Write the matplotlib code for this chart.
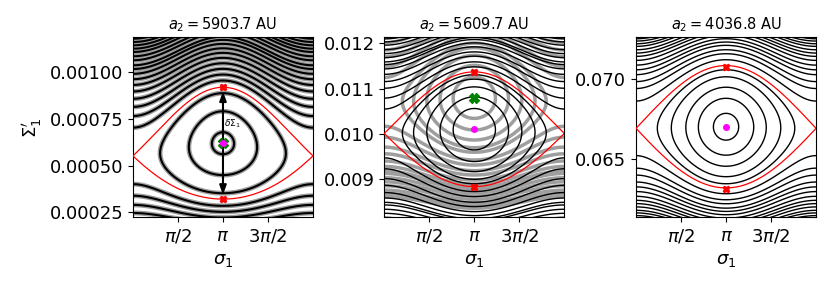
import numpy as np
import matplotlib
matplotlib.use("Agg")
import matplotlib.pyplot as plt

# ---------------- data ----------------
titles = ["$a_2 = 5903.7$ AU", "$a_2 = 5609.7$ AU", "$a_2 = 4036.8$ AU"]
# stable equilibrium (magenta) at sigma = pi
centers = [0.000620, 0.010104, 0.06703]
# saddle point of the separatrix at sigma = 0 / 2pi
saddles = [0.000552, 0.010011, 0.06693]
# separatrix extremes at sigma = pi (red markers)
sep_top = [0.000920, 0.01136, 0.07077]
sep_bot = [0.000321, 0.00883, 0.06315]
# green cross (centre of the grey portrait)
greens = [0.000622, 0.01080, None]
# closed curves: distance above the centre where they cross sigma = pi
rings = [
    [0.000059, 0.000171, 0.000268],
    [0.000457, 0.000713, 0.000934, 0.001104, 0.001203],
    [0.000834, 0.00177, 0.00246, 0.00311, 0.00355],
]
# circulating curves: distance above the centre where they cross sigma = pi
outer_pi = [
    [0.0003356, 0.0003678, 0.0003983, 0.0004282, 0.0004571, 0.0004839,
     0.0005085, 0.0005321, 0.0005535],
    [0.001375, 0.001486, 0.001611, 0.001706, 0.001817, 0.001905, 0.001978],
    [0.004172, 0.004546, 0.004795, 0.005069, 0.005274, 0.00548],
]
# circulating curves leaving the top: distance above the saddle at sigma = 0
outer_edge = [
    [0.0004855, 0.0005123, 0.0005337, 0.0005567, 0.0005744, 0.0005926,
     0.0006102, 0.0006279],
    [0.001578, 0.001673, 0.001762, 0.00185, 0.001947, 0.00202, 0.002086],
    [0.004234, 0.004483, 0.004689, 0.004894, 0.005106, 0.005268, 0.005436,
     0.005579],
]
ylims = [(0.000223, 0.0011874), (0.008161, 0.012132), (0.06139, 0.0726)]
yticks = [[0.00025, 0.0005, 0.00075, 0.001], [0.009, 0.010, 0.011, 0.012],
          [0.065, 0.070]]
ytick_labels = [["0.00025", "0.00050", "0.00075", "0.00100"],
                ["0.009", "0.010", "0.011", "0.012"],
                ["0.065", "0.070"]]
xticks = [np.pi / 2, np.pi, 3 * np.pi / 2]
xtick_labels = [r"$\pi/2$", r"$\pi$", r"$3\pi/2$"]

# ---------------- figure ----------------
fig = plt.figure(figsize=(8.3, 2.9), dpi=100)
lefts = [0.1602, 0.4630, 0.7663]
bottom, w, h = 0.2507, 0.2169, 0.6207


def model(i):
    half = (sep_top[i] - sep_bot[i]) / 2
    k = half ** 2 / 4
    d = (centers[i] - saddles[i]) / (2 * k)
    s0 = (centers[i] + saddles[i]) / 2
    return k, d, s0


def ham(S, sig, k, d, s0):
    u = S - s0
    return u ** 2 / 2 + k * np.cos(sig) * (1 + d * u)


for i in range(3):
    ax = fig.add_axes([lefts[i], bottom, w, h])
    k, d, s0 = model(i)
    sig = np.linspace(0, 2 * np.pi, 600)
    span = ylims[i][1] - ylims[i][0]
    S = np.linspace(ylims[i][0] - 0.1 * span, ylims[i][1] + 0.1 * span, 800)
    SG, SS = np.meshgrid(sig, S)
    H = ham(SS, SG, k, d, s0)
    uc = k * d
    Hc = ham(s0 + uc, np.pi, k, d, s0)
    Hs = ham(s0 - uc, 0.0, k, d, s0)
    lev = ([Hc + r ** 2 / 2 for r in rings[i]]
           + [Hc + r ** 2 / 2 for r in outer_pi[i]]
           + [Hs + q ** 2 / 2 for q in outer_edge[i]])
    lev = np.unique(np.array(lev))

    if i == 0:
        ax.contour(SG, SS, H, levels=lev, colors="0.62", linewidths=3.5,
                   linestyles="solid")
        ax.contour(SG, SS, H, levels=lev, colors="k", linewidths=1.5,
                   linestyles="solid")
    elif i == 1:
        shift = greens[i] - centers[i]
        Hg = ham(SS - shift, SG, k, d, s0)
        ax.contour(SG, SS, Hg, levels=lev, colors="0.62", linewidths=2.5,
                   linestyles="solid")
        ax.contour(SG, SS, H, levels=lev, colors="k", linewidths=1.0,
                   linestyles="solid")
    else:
        ax.contour(SG, SS, H, levels=lev, colors="k", linewidths=1.0,
                   linestyles="solid")

    # separatrix
    c = np.cos(sig)
    disc = np.clip((1 - c) * (2 * k - k ** 2 * d ** 2 * (1 + c)), 0, None)
    up = s0 - k * d * c + np.sqrt(disc)
    lo = s0 - k * d * c - np.sqrt(disc)
    ax.plot(sig, up, color="red", lw=0.9, zorder=4)
    ax.plot(sig, lo, color="red", lw=0.9, zorder=4)

    if i == 0:
        ax.annotate("", xy=(np.pi, sep_bot[i]), xytext=(np.pi, sep_top[i]),
                    arrowprops=dict(arrowstyle="<|-|>,head_length=0.55,head_width=0.2",
                                    color="k", lw=1.5, mutation_scale=10,
                                    shrinkA=3, shrinkB=3),
                    zorder=5)
        ax.text(np.pi + 0.05, 0.000726, r"$\delta\Sigma_1$", fontsize=6.5,
                ha="left", va="center", zorder=6)

    ax.plot([np.pi, np.pi], [sep_top[i], sep_bot[i]], ls="none", marker="X",
            ms=4.5, color="red", zorder=7)
    if greens[i] is not None:
        ax.plot([np.pi], [greens[i]], ls="none", marker="X", ms=6.5,
                color="green", zorder=7)
    ax.plot([np.pi], [centers[i]], ls="none", marker="o", ms=4,
            color="magenta", zorder=8)

    ax.set_xlim(0, 2 * np.pi)
    ax.set_ylim(*ylims[i])
    ax.set_xticks(xticks)
    ax.set_xticklabels(xtick_labels)
    ax.set_yticks(yticks[i])
    ax.set_yticklabels(ytick_labels[i])
    ax.tick_params(labelsize=13)
    ax.set_xlabel(r"$\sigma_1$", fontsize=13)
    ax.set_title(titles[i], fontsize=10.5)
    if i == 0:
        ax.set_ylabel(r"$\Sigma_1^{\prime}$", fontsize=13)

fig.savefig("out.png", dpi=100)
